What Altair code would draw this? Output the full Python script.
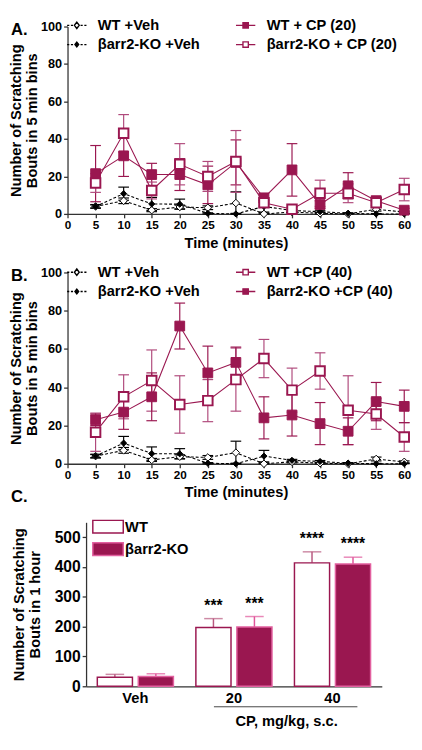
import altair as alt
import pandas as pd

# ---------------- data ----------------
times = [5, 10, 15, 20, 25, 30, 35, 40, 45, 50, 55, 60]

wt_veh = [4, 7, 2, 3.7, 3.3, 5.8, 0, 1, 0.3, 0, 2.5, 1]
wt_veh_sem = [0.8, 1.5, 0.8, 1, 1, 6, 0.5, 0.5, 0.3, 0.3, 1, 0.5]
ko_veh = [4, 10.8, 5.3, 5.2, 0.3, 0, 4, 1.8, 1.2, 0.3, 0, 0]
ko_veh_sem = [1, 3.5, 3.5, 2.7, 0.3, 0.3, 3, 0.5, 0.5, 0.3, 0.2, 0.2]

a_wt_cp20 = [21.5, 31, 21, 21, 15.5, 27.5, 8.5, 23.5, 5, 15, 7, 2]
a_wt_cp20_sem = [15, 11, 6, 8.5, 10, 12, 2.5, 14, 2, 7, 2.5, 1]
a_ko_cp20 = [16.5, 43, 12.5, 26.5, 20, 28, 6, 2.5, 11, 11, 6, 13]
a_ko_cp20_sem = [5, 10, 4.5, 11, 8, 16.5, 2, 1, 7, 5, 2, 6]

b_wt_cp40 = [16.5, 35, 43.5, 31, 33, 44, 55, 38.5, 48.5, 28, 26, 14]
b_wt_cp40_sem = [10, 11.5, 16, 15, 11, 16.5, 10, 11.5, 9.5, 18, 8, 7.5]
b_ko_cp40 = [23, 27, 35, 72, 47.5, 53, 24, 25.5, 21, 17, 32.5, 30]
b_ko_cp40_sem = [3, 9, 12.5, 12, 14, 8, 11, 11, 11, 7, 10, 8.5]

c_groups = ["Veh", "20", "40"]
c_genotypes = ["WT", "βarr2-KO"]
c_wt = [30, 197, 414]
c_wt_sem = [10, 30, 37]
c_ko = [33, 199, 410]
c_ko_sem = [9, 35, 23]
c_wt_stars = ["", "***", "****"]
c_ko_stars = ["", "***", "****"]

panel_labels = ["A.", "B.", "C."]
time_ticks = [0, 5, 10, 15, 20, 25, 30, 35, 40, 45, 50, 55, 60]
line_y_ticks = [0, 20, 40, 60, 80, 100]
bar_y_ticks = [0, 100, 200, 300, 400, 500]

# ---------------- styles ----------------
FONT = "Liberation Sans"
MAROON = "#9a1750"
PINK = "#e2609f"
LINE_W = 345
A_H, B_H = 192, 196
BAR_W, BAR_H = 322, 168
C_SHIFT = 19          # panel C axis sits a little right of panels A/B
CAP_HALF = 0.95       # error-bar cap half width, in minutes

DASH_LINE = "M-1.8,0H-1.4M-1.1,0H-0.7M0.7,0H1.1M1.4,0H1.8"
SOLID_LINE = "M-1.8,0H-0.5M0.5,0H1.8"
OPEN_DIAMOND = "M0,-0.6L0.45,0L0,0.6L-0.45,0Z"
SMALL_DIAMOND = "M0,-0.45L0.35,0L0,0.45L-0.35,0Z"
SQUARE = "M-0.5,-0.5H0.5V0.5H-0.5Z"

STYLE = {
    "wt_veh": dict(color="black", fill="white", shape="diamond", size=60, sw=1, dash=[3, 2],
                   err="black", legend=DASH_LINE + OPEN_DIAMOND),
    "ko_veh": dict(color="black", fill="black", shape="diamond", size=40, sw=1, dash=[3, 2],
                   err="black", legend=DASH_LINE + SMALL_DIAMOND),
    "cp_filled": dict(color=MAROON, fill=MAROON, shape="square", size=100, sw=1, dash=None,
                      err=MAROON, legend=SOLID_LINE + SQUARE),
    "cp_open": dict(color=MAROON, fill="white", shape="square", size=95, sw=2, dash=None,
                    err="#b04a7c", legend=SOLID_LINE + SQUARE),
}


def x_enc(field):
    return alt.X(field, type="quantitative",
                 scale=alt.Scale(domain=[0, 60], nice=False),
                 axis=alt.Axis(values=time_ticks, title="Time (minutes)", labelFontSize=12,
                               labelPadding=2, titlePadding=5, titleFontSize=15, labelFlush=False))


def y_enc(field):
    return alt.Y(field, type="quantitative",
                 scale=alt.Scale(domain=[0, 100], nice=False),
                 axis=alt.Axis(values=line_y_ticks,
                               title=["Number of Scratching", "Bouts in 5 min bins"],
                               labelFontSize=13, labelPadding=2, titlePadding=1,
                               titleLineHeight=16, titleFontSize=15))


def line_panel(series, label, legend_y, height, extra_label=None):
    rows = []
    for name, style_key, vals, sems in series:
        for t, v, e in zip(times, vals, sems):
            rows.append({"series": name, "t": t, "v": v, "lo": max(v - e, 0), "hi": v + e})
    df = pd.DataFrame(rows)
    base = alt.Chart(df).transform_calculate(
        cl=f"datum.t - {CAP_HALF}", cr=f"datum.t + {CAP_HALF}")
    errs, lines, pts = [], [], []
    for name, style_key, vals, sems in series:
        st = STYLE[style_key]
        b = base.transform_filter(alt.datum.series == name)
        errs.append(b.mark_rule(color=st["err"], strokeWidth=1.2).encode(
            x=x_enc("t"), y=y_enc("lo"), y2=alt.Y2("hi")))
        errs.append(b.mark_rule(color=st["err"], strokeWidth=1.2).encode(
            x=x_enc("cl"), x2=alt.X2("cr"), y=y_enc("hi")))
        errs.append(b.mark_rule(color=st["err"], strokeWidth=1.2).encode(
            x=x_enc("cl"), x2=alt.X2("cr"), y=y_enc("lo")))
        lk = dict(color=st["color"], strokeWidth=1.1)
        if st["dash"]:
            lk["strokeDash"] = st["dash"]
        lines.append(b.mark_line(**lk).encode(x=x_enc("t"), y=y_enc("v")))
        pts.append(b.mark_point(shape=st["shape"], size=st["size"], fill=st["fill"],
                                stroke=st["color"], strokeWidth=st["sw"], opacity=1,
                                filled=False).encode(x=x_enc("t"), y=y_enc("v")))

    order = [s[0] for s in series]
    key_of = {s[0]: s[1] for s in series}
    leg = alt.Legend(orient="none", legendX=2, legendY=legend_y, columns=2, title=None,
                     symbolSize=121, symbolStrokeWidth=1.4, symbolOpacity=1,
                     labelFont=FONT, labelFontSize=15, labelFontWeight="bold", labelColor="black",
                     labelOffset=14, rowPadding=4, columnPadding=33, padding=0)
    legend_layer = base.transform_filter("false").mark_point(opacity=1).encode(
        shape=alt.Shape("series:N", scale=alt.Scale(domain=order,
                        range=[STYLE[key_of[n]]["legend"] for n in order]), legend=leg),
        fill=alt.Fill("series:N", scale=alt.Scale(domain=order,
                      range=[STYLE[key_of[n]]["fill"] for n in order]), legend=leg),
        stroke=alt.Stroke("series:N", scale=alt.Scale(domain=order,
                          range=[STYLE[key_of[n]]["color"] for n in order]), legend=leg),
    )

    texts = [alt.Chart(pd.DataFrame({"lab": [label]})).mark_text(
        font=FONT, fontWeight="bold", fontSize=17, align="left", baseline="middle").encode(
        text="lab:N", x=alt.value(-58), y=alt.value(4))]
    if extra_label:
        texts.append(alt.Chart(pd.DataFrame({"lab": [extra_label]})).mark_text(
            font=FONT, fontWeight="bold", fontSize=17, align="left", baseline="middle").encode(
            text="lab:N", x=alt.value(-58), y=alt.value(height + 34)))

    return alt.layer(*errs, *lines, *pts, legend_layer, *texts).properties(
        width=LINE_W, height=height)


panel_a = line_panel([
    ("WT +Veh", "wt_veh", wt_veh, wt_veh_sem),
    ("βarr2-KO +Veh", "ko_veh", ko_veh, ko_veh_sem),
    ("WT + CP (20)", "cp_filled", a_wt_cp20, a_wt_cp20_sem),
    ("βarr2-KO + CP (20)", "cp_open", a_ko_cp20, a_ko_cp20_sem),
], panel_labels[0], -9, A_H)

panel_b = line_panel([
    ("WT +Veh", "wt_veh", wt_veh, wt_veh_sem),
    ("βarr2-KO +Veh", "ko_veh", ko_veh, ko_veh_sem),
    ("WT +CP (40)", "cp_open", b_wt_cp40, b_wt_cp40_sem),
    ("βarr2-KO +CP (40)", "cp_filled", b_ko_cp40, b_ko_cp40_sem),
], panel_labels[1], -8, B_H, extra_label=panel_labels[2])

# ---------------- panel C ----------------
dfc = pd.DataFrame({
    "grp": c_groups * 2,
    "geno": [c_genotypes[0]] * 3 + [c_genotypes[1]] * 3,
    "v": c_wt + c_ko,
    "hi": [v + e for v, e in zip(c_wt, c_wt_sem)] + [v + e for v, e in zip(c_ko, c_ko_sem)],
    "stars": c_wt_stars + c_ko_stars,
})

XC = alt.X("grp:N", sort=c_groups,
           scale=alt.Scale(domain=c_groups, paddingInner=0, paddingOuter=0, range=[C_SHIFT, BAR_W]),
           axis=alt.Axis(title="CP, mg/kg, s.c.", titleX=205 + C_SHIFT, titlePadding=8, ticks=False,
                         labelAngle=0, labelFontSize=15, labelPadding=5, titleFontSize=15))
XO = alt.XOffset("geno:N", sort=c_genotypes,
                 scale=alt.Scale(domain=c_genotypes, paddingInner=0.143, paddingOuter=0.274))


def yc(field):
    return alt.Y(field, type="quantitative", scale=alt.Scale(domain=[0, 550], nice=False),
                 axis=alt.Axis(values=bar_y_ticks, offset=-C_SHIFT,
                               title=["Number of Scratching", "Bouts in 1 hour"],
                               labelFontSize=16, labelPadding=2, titlePadding=12,
                               titleLineHeight=16, titleFontSize=15))


leg_c = alt.Legend(orient="none", legendX=15 + C_SHIFT, legendY=-3, title=None,
                   symbolType="M-2.4,-1H2.4V1H-2.4Z", symbolSize=169, symbolStrokeWidth=1.5,
                   symbolOpacity=1, labelFont=FONT, labelFontSize=15, labelFontWeight="bold",
                   labelColor="black", labelOffset=10, rowPadding=4, padding=0)

bars = alt.Chart(dfc).mark_bar(strokeWidth=1.5).encode(
    x=XC, xOffset=XO, y=yc("v"),
    fill=alt.Fill("geno:N", scale=alt.Scale(domain=c_genotypes, range=["white", MAROON]), legend=leg_c),
    stroke=alt.Stroke("geno:N", scale=alt.Scale(domain=c_genotypes, range=[MAROON, PINK]), legend=leg_c),
)

err_layers = []
for g, col in zip(c_genotypes, ["#b8587f", "#e0559a"]):
    b = alt.Chart(dfc).transform_filter(alt.datum.geno == g)
    err_layers.append(b.mark_rule(color=col, strokeWidth=1.5).encode(
        x=XC, xOffset=XO, y=yc("v"), y2=alt.Y2("hi")))
    err_layers.append(b.mark_tick(orient="horizontal", color=col, size=19, thickness=1.5).encode(
        x=XC, xOffset=XO, y=yc("hi")))

stars = alt.Chart(dfc).mark_text(font=FONT, fontWeight="bold", fontSize=16, dy=-5,
                                 baseline="bottom", color="black").encode(
    x=XC, xOffset=XO, y=yc("hi"), text="stars:N")

underline = alt.Chart(pd.DataFrame({"k": [0]})).mark_rule(color="#444", strokeWidth=1).encode(
    x=alt.value(131 + C_SHIFT), x2=alt.value(278 + C_SHIFT), y=alt.value(BAR_H + 21))

panel_c = alt.layer(*err_layers, bars, stars, underline).properties(width=BAR_W, height=BAR_H)

chart = alt.vconcat(panel_a, panel_b, panel_c, spacing=60, bounds="flush").properties(
    padding={"left": 0, "top": 0, "right": 0, "bottom": 0}
).resolve_scale(
    fill="independent", stroke="independent", shape="independent",
    x="independent", y="independent"
).resolve_legend(
    fill="independent", stroke="independent", shape="independent"
).configure_view(
    stroke="transparent"
).configure_axis(
    labelFont=FONT, titleFont=FONT, labelFontWeight="bold", titleFontWeight="bold",
    labelColor="black", titleColor="black", domainColor="#333", tickColor="#333",
    domainWidth=1.3, tickWidth=1.3, tickSize=4, grid=False
)

chart.save("out.html", embed_options={"renderer": "svg", "actions": False})
